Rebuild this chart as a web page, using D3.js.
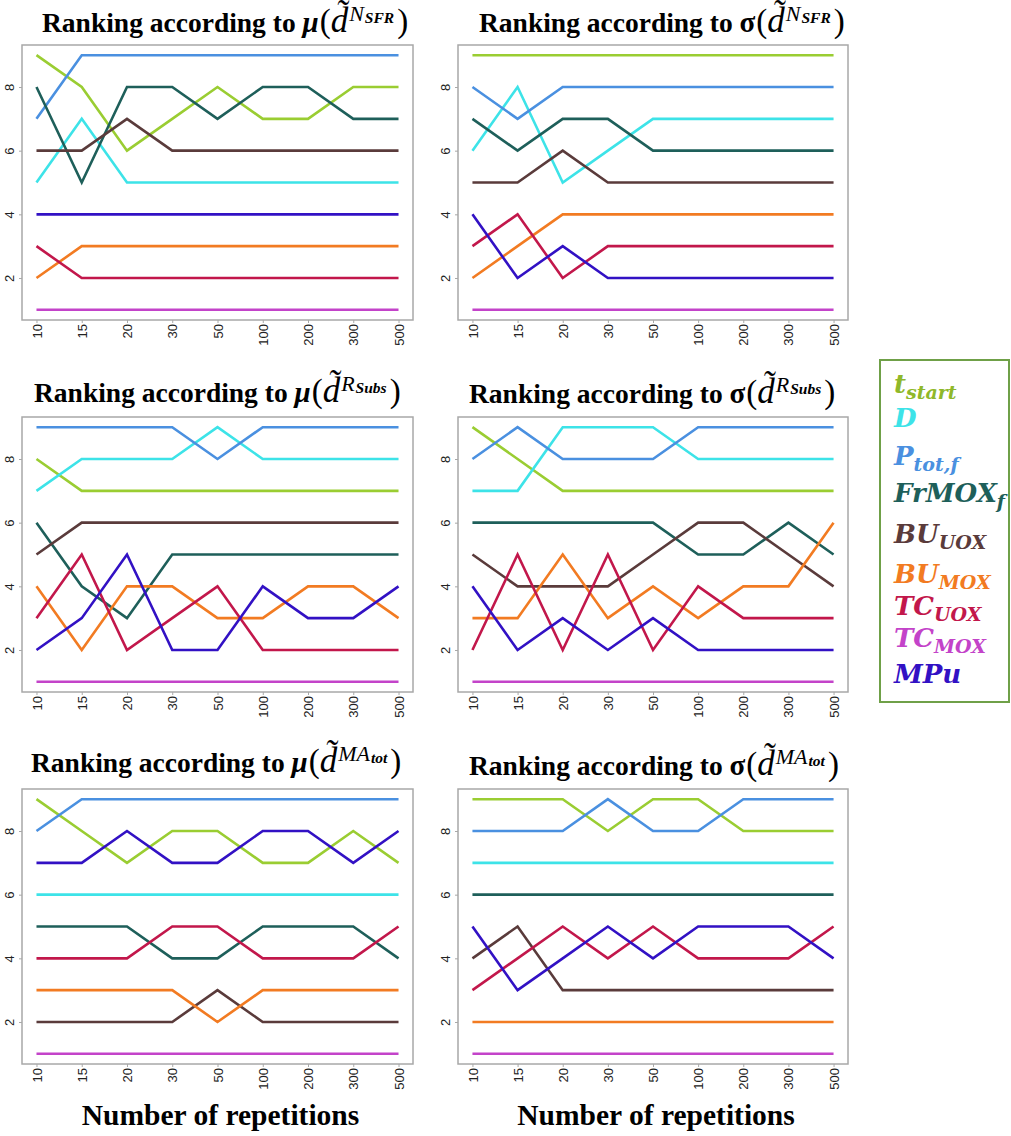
<!DOCTYPE html>
<html><head><meta charset="utf-8">
<script src="https://cdn.jsdelivr.net/npm/d3@7"></script>
<style>body{margin:0;background:#fff} svg{display:block}</style>
</head><body>
<svg id="c" width="1011" height="1136"></svg>
<script>
// ---------- data ----------
const categories = ["10","15","20","30","50","100","200","300","500"];
const seriesNames = ["t_start","D","P_tot,f","FrMOX_f","BU_UOX","BU_MOX","TC_UOX","TC_MOX","MPu"];
const legendMain = ["t","D","P","FrMOX","BU","BU","TC","TC","MPu"];
const legendSub  = ["start","","tot,f","f","UOX","MOX","UOX","MOX",""];
const seriesColors = ["#9acd32","#3de3e8","#4a90e0","#1e5f5a","#5a3b3b","#f27b22","#c2174b","#c343c9","#3211c4"];
const legendColors = ["#8fb82a","#3de3e8","#4a90e0","#1e5f5a","#5a3b3b","#f27b22","#c2174b","#c343c9","#3211c4"];
const yTicks = [2,4,6,8];

// rank of each series (order as seriesNames) for each category
const rankMuNSFR = [
  [9,8,6,7,8,7,7,8,8],
  [5,7,5,5,5,5,5,5,5],
  [7,9,9,9,9,9,9,9,9],
  [8,5,8,8,7,8,8,7,7],
  [6,6,7,6,6,6,6,6,6],
  [2,3,3,3,3,3,3,3,3],
  [3,2,2,2,2,2,2,2,2],
  [1,1,1,1,1,1,1,1,1],
  [4,4,4,4,4,4,4,4,4]
];
const rankSigmaNSFR = [
  [9,9,9,9,9,9,9,9,9],
  [6,8,5,6,7,7,7,7,7],
  [8,7,8,8,8,8,8,8,8],
  [7,6,7,7,6,6,6,6,6],
  [5,5,6,5,5,5,5,5,5],
  [2,3,4,4,4,4,4,4,4],
  [3,4,2,3,3,3,3,3,3],
  [1,1,1,1,1,1,1,1,1],
  [4,2,3,2,2,2,2,2,2]
];
const rankMuRSubs = [
  [8,7,7,7,7,7,7,7,7],
  [7,8,8,8,9,8,8,8,8],
  [9,9,9,9,8,9,9,9,9],
  [6,4,3,5,5,5,5,5,5],
  [5,6,6,6,6,6,6,6,6],
  [4,2,4,4,3,3,4,4,3],
  [3,5,2,3,4,2,2,2,2],
  [1,1,1,1,1,1,1,1,1],
  [2,3,5,2,2,4,3,3,4]
];
const rankSigmaRSubs = [
  [9,8,7,7,7,7,7,7,7],
  [7,7,9,9,9,8,8,8,8],
  [8,9,8,8,8,9,9,9,9],
  [6,6,6,6,6,5,5,6,5],
  [5,4,4,4,5,6,6,5,4],
  [3,3,5,3,4,3,4,4,6],
  [2,5,2,5,2,4,3,3,3],
  [1,1,1,1,1,1,1,1,1],
  [4,2,3,2,3,2,2,2,2]
];
const rankMuMAtot = [
  [9,8,7,8,8,7,7,8,7],
  [6,6,6,6,6,6,6,6,6],
  [8,9,9,9,9,9,9,9,9],
  [5,5,5,4,4,5,5,5,4],
  [2,2,2,2,3,2,2,2,2],
  [3,3,3,3,2,3,3,3,3],
  [4,4,4,5,5,4,4,4,5],
  [1,1,1,1,1,1,1,1,1],
  [7,7,8,7,7,8,8,7,8]
];
const rankSigmaMAtot = [
  [9,9,9,8,9,9,8,8,8],
  [7,7,7,7,7,7,7,7,7],
  [8,8,8,9,8,8,9,9,9],
  [6,6,6,6,6,6,6,6,6],
  [4,5,3,3,3,3,3,3,3],
  [2,2,2,2,2,2,2,2,2],
  [3,4,5,4,5,4,4,4,5],
  [1,1,1,1,1,1,1,1,1],
  [5,3,4,5,4,5,5,5,4]
];
const panelData  = [rankMuNSFR, rankSigmaNSFR, rankMuRSubs, rankSigmaRSubs, rankMuMAtot, rankSigmaMAtot];
const panelStat  = ["μ","σ","μ","σ","μ","σ"];
const panelSup   = ["N","N","R","R","MA","MA"];
const panelSupSub= ["SFR","SFR","Subs","Subs","tot","tot"];
const xAxisTitle = "Number of repetitions";

// ---------- layout ----------
const colX = [[22,413],[458,848]];
const rowY = [[45,320],[417,692],[789,1064]];
const titleX = [42,479,34,469,31,469];
const titleY = [32,32,402,403,772,775];
const serif = "'Liberation Serif','Times New Roman',serif";
const sans = "'Liberation Sans',Arial,sans-serif";

const svg = d3.select("#c");
svg.append("rect").attr("width",1011).attr("height",1136).attr("fill","#fff");

panelData.forEach((data, p) => {
  const [x0,x1] = colX[p % 2];
  const [y0,y1] = rowY[Math.floor(p / 2)];
  const n = categories.length;
  const x = d3.scaleLinear().domain([-0.04*(n-1), (n-1)*1.04]).range([x0,x1]);
  const y = d3.scaleLinear().domain([1-0.32, 9+0.32]).range([y1,y0]);
  const g = svg.append("g");

  // lines
  const line = d3.line().x((d,i)=>x(i)).y(d=>y(d));
  data.forEach((vals, s) => {
    g.append("path").attr("d", line(vals)).attr("fill","none")
      .attr("stroke", seriesColors[s]).attr("stroke-width",2.6)
      .attr("stroke-linejoin","miter");
  });

  // box
  g.append("rect").attr("x",x0).attr("y",y0).attr("width",x1-x0).attr("height",y1-y0)
    .attr("fill","none").attr("stroke","#a8a8a8").attr("stroke-width",1.5);

  // y axis
  const yAx = g.append("g").attr("transform",`translate(${x0},0)`)
    .call(d3.axisLeft(y).tickValues(yTicks).tickSize(3).tickPadding(0).tickFormat(d3.format("d")));
  yAx.select(".domain").remove();
  yAx.selectAll(".tick line").attr("stroke","#a8a8a8");
  yAx.selectAll(".tick text").attr("font-family",sans).attr("font-size",13).attr("fill","#222")
    .attr("text-anchor","middle").attr("x",0).attr("dy",0)
    .attr("transform","translate(-8,0) rotate(-90)");

  // x axis
  const xAx = g.append("g").attr("transform",`translate(0,${y1})`)
    .call(d3.axisBottom(x).tickValues(d3.range(n)).tickSize(3).tickFormat(i=>categories[i]));
  xAx.select(".domain").remove();
  xAx.selectAll(".tick line").attr("stroke","#a8a8a8");
  xAx.selectAll(".tick text").attr("font-family",sans).attr("font-size",13).attr("fill","#222")
    .attr("text-anchor","end").attr("x",0).attr("y",0).attr("dy","0.35em")
    .attr("transform","translate(0,4) rotate(-90)");

  // title
  const t = svg.append("text").attr("x",titleX[p]).attr("y",titleY[p])
    .attr("font-family",serif).attr("font-size",27.5).attr("font-weight","bold").attr("fill","#000");
  t.append("tspan").text("Ranking according to ");
  t.append("tspan").text(panelStat[p]).attr("font-size",29)
    .attr("font-style", panelStat[p]==="μ" ? "italic" : "normal");
  t.append("tspan").text("(").attr("font-weight","normal").attr("font-size",33).attr("dx",1);
  t.append("tspan").text("d\u0303").attr("font-weight","normal").attr("font-style","italic").attr("font-size",35);
  t.append("tspan").text(panelSup[p]).attr("font-weight","normal").attr("font-style","italic")
    .attr("font-size",22).attr("dy",-11).attr("dx",1);
  t.append("tspan").text(panelSupSub[p]).attr("font-weight","bold").attr("font-style","italic")
    .attr("font-size",15.5).attr("dy",2).attr("dx",1);
  t.append("tspan").text(")").attr("font-weight","normal").attr("font-size",33).attr("dx",3).attr("dy",9);

  // x axis title (bottom row)
  if (Math.floor(p/2) === 2) {
    svg.append("text").attr("x",(x0+x1)/2 + 3).attr("y",1125).attr("text-anchor","middle")
      .attr("font-family",serif).attr("font-size",29.5).attr("font-weight","bold").attr("fill","#000")
      .text(xAxisTitle);
  }
});

// ---------- legend ----------
const legY = [393,427,465,502,543,583,615,647,683];
const lg = svg.append("g");
lg.append("rect").attr("x",880).attr("y",360).attr("width",129).attr("height",342)
  .attr("fill","#fff").attr("stroke","#6fa048").attr("stroke-width",2);
legendMain.forEach((m, i) => {
  const t = lg.append("text").attr("x",894).attr("y",legY[i])
    .attr("font-family","'DejaVu Serif',serif").attr("font-weight","bold").attr("font-style","italic")
    .attr("fill",legendColors[i]).attr("font-size",26);
  t.append("tspan").text(m);
  if (legendSub[i]) t.append("tspan").text(legendSub[i]).attr("font-size",19).attr("dy",6);
});
</script>
</body></html>
